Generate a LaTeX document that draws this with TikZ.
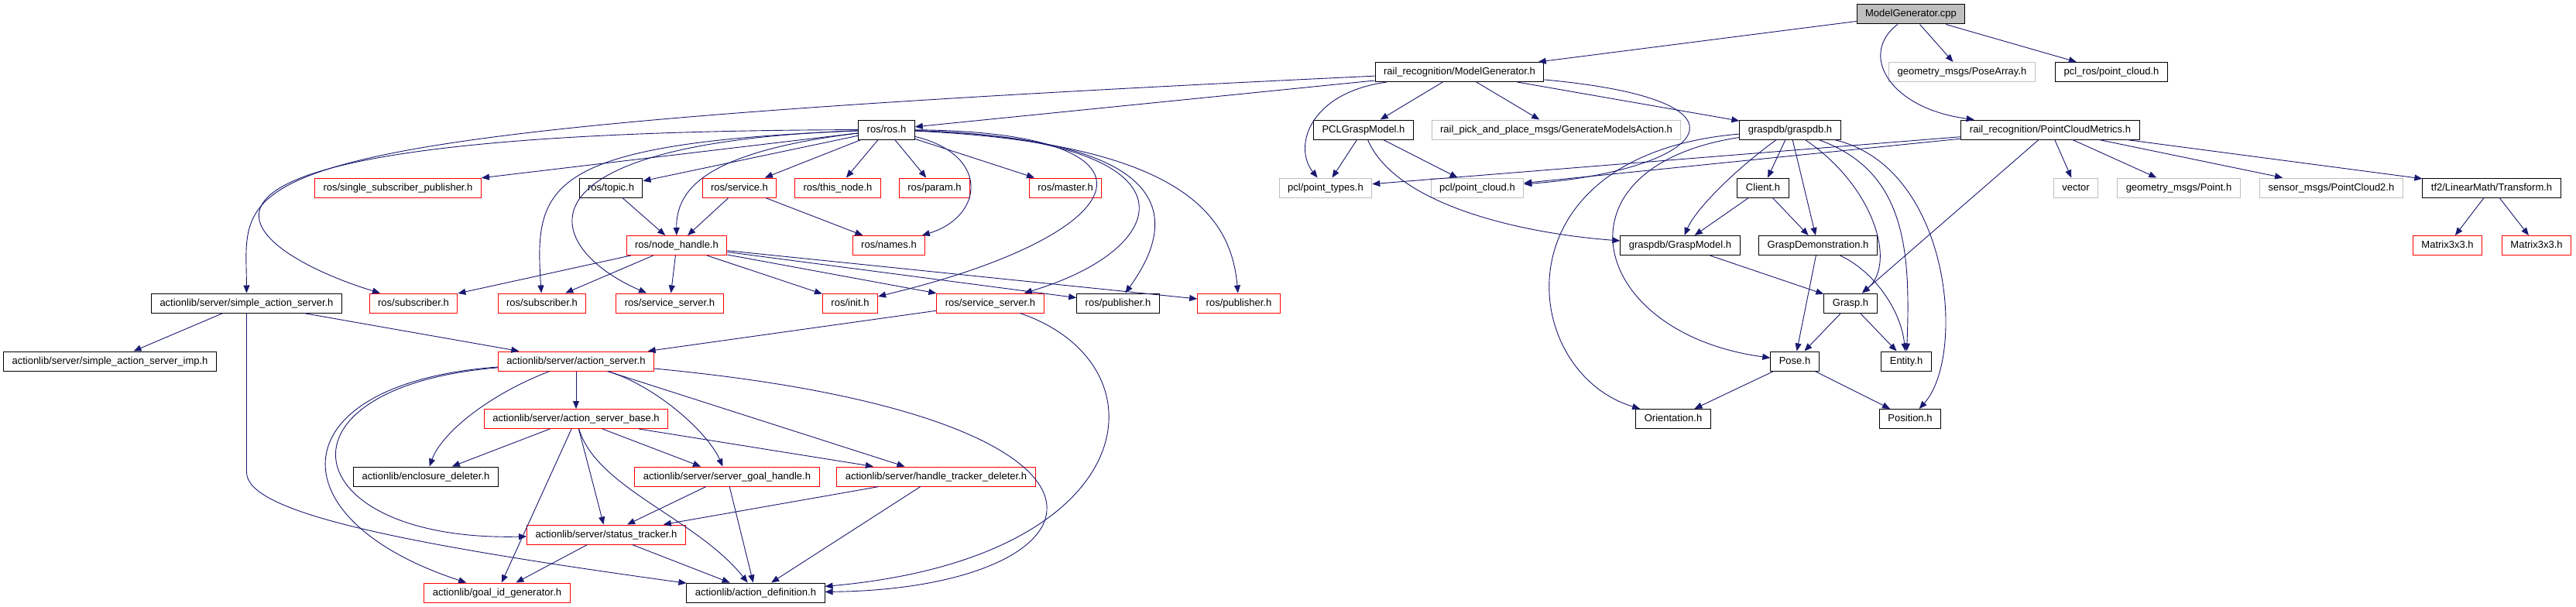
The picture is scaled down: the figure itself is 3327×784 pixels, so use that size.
\documentclass[tikz,border=0pt]{standalone}
\usepackage{fontspec}
\setmainfont{Liberation Sans}
\usepackage{xcolor}
\usepackage{tikz}
\usetikzlibrary{arrows.meta}
\definecolor{incblue}{HTML}{191970}
\definecolor{undocgray}{HTML}{BFBFBF}
\tikzset{
    filebox/.style={
        rectangle,
        draw=black,
        fill=white,
        line width=1pt,
        minimum height=25pt,
        inner xsep=11pt,
        inner ysep=0pt,
        text height=9.5pt,
        text depth=2.5pt,
        font=\fontsize{13}{13}\selectfont
    },
    redfilebox/.style={
        filebox,
        draw=red
    },
    grayfilebox/.style={
        filebox,
        draw=undocgray
    },
    rootfilebox/.style={
        filebox,
        fill=undocgray
    },
    inclline/.style={
        -{Triangle[length=10pt,width=8pt]},
        draw=incblue,
        line width=0.9pt
    }
}

\begin{document}
\begin{tikzpicture}[x=1pt, y=-1pt]
    \fill[white] (0,0) rectangle (3327,784);

    \node[rootfilebox] (cpp) at (2468,18.5) {ModelGenerator.cpp};

    \node[filebox] (mgen) at (1885,93) {rail\_recognition/ModelGenerator.h};
    \node[grayfilebox] (posearray) at (2534,93) {geometry\_msgs/PoseArray.h};
    \node[filebox] (pclros) at (2727,93) {pcl\_ros/point\_cloud.h};

    \node[filebox] (rosh) at (1145,167.5) {ros/ros.h};
    \node[filebox] (pclgm) at (1761,167.5) {PCLGraspModel.h};
    \node[grayfilebox] (genact) at (2010,167.5) {rail\_pick\_and\_place\_msgs/GenerateModelsAction.h};
    \node[filebox] (graspdb) at (2312,167.5) {graspdb/graspdb.h};
    \node[filebox] (pcmet) at (2648,167.5) {rail\_recognition/PointCloudMetrics.h};

    \node[redfilebox] (ssp) at (514,242.5) {ros/single\_subscriber\_publisher.h};
    \node[filebox] (topic) at (789,242.5) {ros/topic.h};
    \node[redfilebox] (service) at (955,242.5) {ros/service.h};
    \node[redfilebox] (thisnode) at (1082,242.5) {ros/this\_node.h};
    \node[redfilebox] (param) at (1207,242.5) {ros/param.h};
    \node[redfilebox] (master) at (1376,242.5) {ros/master.h};
    \node[grayfilebox] (ptypes) at (1712,242.5) {pcl/point\_types.h};
    \node[grayfilebox] (pcloud) at (1908,242.5) {pcl/point\_cloud.h};
    \node[filebox] (client) at (2277,242.5) {Client.h};
    \node[grayfilebox] (vector) at (2681,242.5) {vector};
    \node[grayfilebox] (gpoint) at (2814,242.5) {geometry\_msgs/Point.h};
    \node[grayfilebox] (pc2) at (3011,242.5) {sensor\_msgs/PointCloud2.h};
    \node[filebox] (transform) at (3218,242.5) {tf2/LinearMath/Transform.h};

    \node[redfilebox] (nh) at (874,317) {ros/node\_handle.h};
    \node[redfilebox] (names) at (1148,317) {ros/names.h};
    \node[filebox] (graspmodel) at (2170,317) {graspdb/GraspModel.h};
    \node[filebox] (graspdemo) at (2348,317) {GraspDemonstration.h};
    \node[redfilebox] (mat1) at (3161,317) {Matrix3x3.h};
    \node[redfilebox] (mat2) at (3276,317) {Matrix3x3.h};

    \node[filebox] (sas) at (318.5,391.5) {actionlib/server/simple\_action\_server.h};
    \node[redfilebox] (sub1) at (534,391.5) {ros/subscriber.h};
    \node[redfilebox] (sub2) at (700,391.5) {ros/subscriber.h};
    \node[redfilebox] (ssrv1) at (865,391.5) {ros/service\_server.h};
    \node[redfilebox] (init) at (1098,391.5) {ros/init.h};
    \node[redfilebox] (ssrv2) at (1279,391.5) {ros/service\_server.h};
    \node[filebox] (pub1) at (1444,391.5) {ros/publisher.h};
    \node[redfilebox] (pub2) at (1600,391.5) {ros/publisher.h};
    \node[filebox] (grasp) at (2390,391.5) {Grasp.h};

    \node[filebox] (sasimp) at (142,466.5) {actionlib/server/simple\_action\_server\_imp.h};
    \node[redfilebox] (asrv) at (744,466.5) {actionlib/server/action\_server.h};
    \node[filebox] (pose) at (2318,466.5) {Pose.h};
    \node[filebox] (entity) at (2462,466.5) {Entity.h};

    \node[redfilebox] (asbase) at (744,541) {actionlib/server/action\_server\_base.h};
    \node[filebox] (orient) at (2161,541) {Orientation.h};
    \node[filebox] (position) at (2467,541) {Position.h};

    \node[filebox] (encl) at (550,615.5) {actionlib/enclosure\_deleter.h};
    \node[redfilebox] (sgh) at (939,615.5) {actionlib/server/server\_goal\_handle.h};
    \node[redfilebox] (htd) at (1209,615.5) {actionlib/server/handle\_tracker\_deleter.h};

    \node[redfilebox] (status) at (783,690.5) {actionlib/server/status\_tracker.h};

    \node[redfilebox] (goalid) at (642,765.5) {actionlib/goal\_id\_generator.h};
    \node[filebox] (adef) at (976,765.5) {actionlib/action\_definition.h};

    \coordinate (sasbend) at (318.5,610);

    \draw[inclline] (cpp) -- (mgen);
    \draw[inclline] (cpp) -- (posearray);
    \draw[inclline] (cpp) -- (pclros);
    \draw[inclline] (cpp) .. controls (2400,70) and (2440,140) .. (pcmet);

    \draw[inclline] (mgen) -- (rosh);
    \draw[inclline] (mgen) .. controls (250,170) and (318,220) .. (sas);
    \draw[inclline] (mgen) -- (pclgm);
    \draw[inclline] (mgen) -- (genact);
    \draw[inclline] (mgen) -- (graspdb);
    \draw[inclline] (mgen) .. controls (1690,120) and (1670,190) .. (ptypes);
    \draw[inclline] (mgen) .. controls (2290,130) and (2200,220) .. (pcloud);

    \draw[inclline] (rosh) -- (ssp);
    \draw[inclline] (rosh) .. controls (60,170) and (330,330) .. (sub1);
    \draw[inclline] (rosh) .. controls (700,185) and (690,240) .. (sub2);
    \draw[inclline] (rosh) .. controls (650,185) and (700,320) .. (ssrv1);
    \draw[inclline] (rosh) -- (topic);
    \draw[inclline] (rosh) .. controls (920,195) and (873,240) .. (nh);
    \draw[inclline] (rosh) -- (service);
    \draw[inclline] (rosh) -- (thisnode);
    \draw[inclline] (rosh) -- (param);
    \draw[inclline] (rosh) -- (master);
    \draw[inclline] (rosh) .. controls (1280,200) and (1270,280) .. (names);
    \draw[inclline] (rosh) .. controls (1520,170) and (1480,300) .. (init);
    \draw[inclline] (rosh) .. controls (1560,180) and (1520,320) .. (ssrv2);
    \draw[inclline] (rosh) .. controls (1550,180) and (1510,300) .. (pub1);
    \draw[inclline] (rosh) .. controls (1530,185) and (1590,280) .. (pub2);

    \draw[inclline] (topic) -- (nh);
    \draw[inclline] (service) -- (nh);
    \draw[inclline] (service) -- (names);

    \draw[inclline] (nh) -- (sub1);
    \draw[inclline] (nh) -- (sub2);
    \draw[inclline] (nh) -- (ssrv1);
    \draw[inclline] (nh) -- (init);
    \draw[inclline] (nh) -- (ssrv2);
    \draw[inclline] (nh) -- (pub1);
    \draw[inclline] (nh) -- (pub2);

    \draw[inclline] (ssrv2) -- (asrv);
    \draw[inclline] (ssrv2) .. controls (1510,470) and (1480,720) .. (adef);

    \draw[inclline] (sas) -- (sasimp);
    \draw[inclline] (sas) -- (asrv);
    \draw[inclline] (sas) -- (sasbend) .. controls (318.5,660) and (500,700) .. (adef);

    \draw[inclline] (asrv) .. controls (360,495) and (350,670) .. (goalid);
    \draw[inclline] (asrv) .. controls (340,500) and (380,700) .. (status);
    \draw[inclline] (asrv) .. controls (630,510) and (570,560) .. (encl);
    \draw[inclline] (asrv) -- (asbase);
    \draw[inclline] (asrv) .. controls (850,500) and (915,560) .. (sgh);
    \draw[inclline] (asrv) -- (htd);
    \draw[inclline] (asrv) .. controls (1520,540) and (1440,760) .. (adef);

    \draw[inclline] (asbase) -- (encl);
    \draw[inclline] (asbase) -- (goalid);
    \draw[inclline] (asbase) -- (status);
    \draw[inclline] (asbase) .. controls (770,630) and (900,670) .. (adef);
    \draw[inclline] (asbase) -- (sgh);
    \draw[inclline] (asbase) -- (htd);

    \draw[inclline] (sgh) -- (status);
    \draw[inclline] (sgh) -- (adef);
    \draw[inclline] (htd) -- (status);
    \draw[inclline] (htd) -- (adef);
    \draw[inclline] (status) -- (goalid);
    \draw[inclline] (status) -- (adef);

    \draw[inclline] (pclgm) -- (ptypes);
    \draw[inclline] (pclgm) -- (pcloud);
    \draw[inclline] (pclgm) .. controls (1800,260) and (1950,300) .. (graspmodel);

    \draw[inclline] (graspdb) .. controls (1930,200) and (1960,480) .. (orient);
    \draw[inclline] (graspdb) .. controls (2000,215) and (2050,430) .. (pose);
    \draw[inclline] (graspdb) -- (client);
    \draw[inclline] (graspdb) .. controls (2240,220) and (2190,270) .. (graspmodel);
    \draw[inclline] (graspdb) -- (graspdemo);
    \draw[inclline] (graspdb) .. controls (2420,240) and (2450,340) .. (grasp);
    \draw[inclline] (graspdb) .. controls (2460,220) and (2468,320) .. (entity);
    \draw[inclline] (graspdb) .. controls (2520,215) and (2540,460) .. (position);

    \draw[inclline] (client) -- (graspmodel);
    \draw[inclline] (client) -- (graspdemo);
    \draw[inclline] (graspmodel) -- (grasp);
    \draw[inclline] (graspdemo) .. controls (2420,350) and (2455,400) .. (entity);
    \draw[inclline] (graspdemo) -- (pose);
    \draw[inclline] (grasp) -- (pose);
    \draw[inclline] (grasp) -- (entity);
    \draw[inclline] (pose) -- (orient);
    \draw[inclline] (pose) -- (position);

    \draw[inclline] (pcmet) -- (ptypes);
    \draw[inclline] (pcmet) -- (pcloud);
    \draw[inclline] (pcmet) -- (grasp);
    \draw[inclline] (pcmet) -- (vector);
    \draw[inclline] (pcmet) -- (gpoint);
    \draw[inclline] (pcmet) -- (pc2);
    \draw[inclline] (pcmet) -- (transform);
    \draw[inclline] (transform) -- (mat1);
    \draw[inclline] (transform) -- (mat2);
\end{tikzpicture}
\end{document}
